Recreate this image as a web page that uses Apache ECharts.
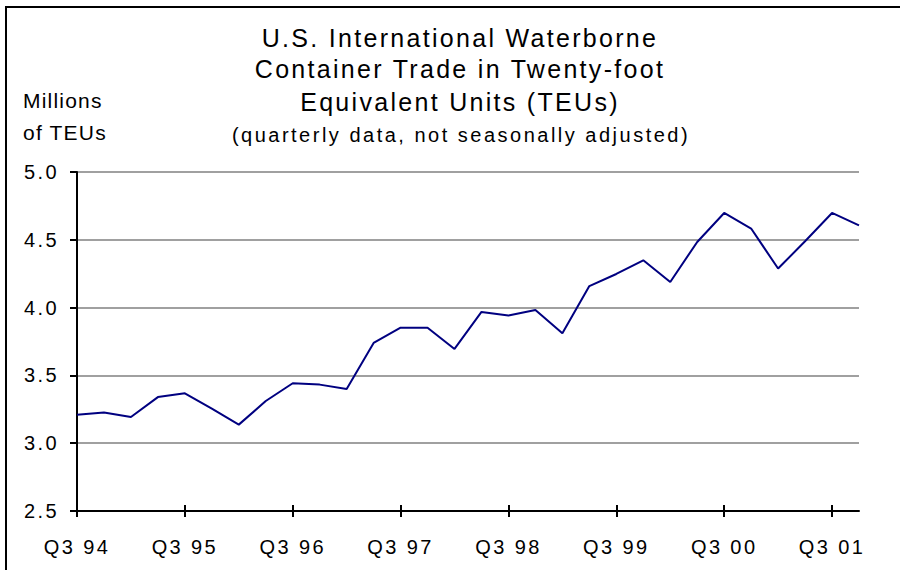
<!DOCTYPE html>
<html>
<head>
<meta charset="utf-8">
<script src="https://cdn.jsdelivr.net/npm/echarts@6/dist/echarts.min.js"></script>
<style>
  html, body { margin: 0; padding: 0; background: #fff; }
  #chart { width: 900px; height: 570px; }
</style>
</head>
<body>
<div id="chart"></div>
<script>
// Quarterly periods, Q3 1994 through Q4 2001
const quarters = [
  'Q3 94', 'Q4 94', 'Q1 95', 'Q2 95',
  'Q3 95', 'Q4 95', 'Q1 96', 'Q2 96',
  'Q3 96', 'Q4 96', 'Q1 97', 'Q2 97',
  'Q3 97', 'Q4 97', 'Q1 98', 'Q2 98',
  'Q3 98', 'Q4 98', 'Q1 99', 'Q2 99',
  'Q3 99', 'Q4 99', 'Q1 00', 'Q2 00',
  'Q3 00', 'Q4 00', 'Q1 01', 'Q2 01',
  'Q3 01', 'Q4 01'
];

// Container trade, millions of TEUs
const teus = [
  3.21, 3.226, 3.193, 3.34,
  3.368, 3.255, 3.137, 3.311,
  3.442, 3.432, 3.40, 3.739,
  3.852, 3.852, 3.695, 3.968,
  3.941, 3.982, 3.81, 4.159,
  4.248, 4.349, 4.189, 4.484,
  4.698, 4.583, 4.288, 4.489,
  4.698, 4.607
];

const yTicks = { min: 2.5, max: 5.0, step: 0.5 };

const titleLines = [
  'U.S. International Waterborne',
  'Container Trade in Twenty-foot',
  'Equivalent Units (TEUs)'
];
const subtitle = '(quarterly data, not seasonally adjusted)';
const unitLines = ['Millions', 'of TEUs'];

const FONT = '"Liberation Sans", Arial, sans-serif';

const chart = echarts.init(document.getElementById('chart'), null, { renderer: 'svg' });

const textEl = (text, x, y, size, align) => ({
  type: 'text',
  x: x, y: y,
  style: {
    text: text,
    fill: '#000',
    font: size + 'px ' + FONT,
    textAlign: align,
    textVerticalAlign: 'middle'
  }
});

chart.setOption({
  animation: false,
  backgroundColor: '#fff',
  grid: { left: 77, right: 41, top: 172, bottom: 59, containLabel: false },
  xAxis: [
    {
      type: 'category',
      data: quarters,
      boundaryGap: false,
      axisLine: { lineStyle: { color: '#000', width: 2 } },
      axisTick: { interval: 3, length: 6, lineStyle: { color: '#000', width: 2 } },
      axisLabel: { interval: 3, margin: 26, color: '#000', fontSize: 20, fontFamily: FONT },
      splitLine: { show: false }
    },
    {
      // upper half of the crossing tick marks, raised into the plot
      type: 'category',
      data: quarters,
      boundaryGap: false,
      position: 'bottom',
      offset: -6,
      axisLine: { show: true, lineStyle: { color: 'rgba(0,0,0,0)', width: 0 } },
      axisTick: { show: true, interval: 3, length: 6, lineStyle: { color: '#000', width: 2 } },
      axisLabel: { show: false },
      splitLine: { show: false },
      z: 10
    }
  ],
  yAxis: {
    type: 'value',
    min: yTicks.min,
    max: yTicks.max,
    interval: yTicks.step,
    axisLine: { show: true, lineStyle: { color: '#000', width: 2 } },
    axisTick: { show: true, length: 7, lineStyle: { color: '#000', width: 2 } },
    axisLabel: {
      margin: 18, color: '#000', fontSize: 20, fontFamily: FONT,
      formatter: v => v.toFixed(1)
    },
    splitLine: { lineStyle: { color: '#a0a0a0', width: 2 } }
  },
  series: [{
    type: 'line',
    data: teus,
    xAxisIndex: 0,
    symbol: 'none',
    lineStyle: { color: '#000080', width: 2 },
    z: 5
  }],
  graphic: [
    { type: 'line', shape: { x1: 6, y1: 7, x2: 900, y2: 7 }, style: { stroke: '#000', lineWidth: 2 } },
    { type: 'line', shape: { x1: 6, y1: 6, x2: 6, y2: 570 }, style: { stroke: '#000', lineWidth: 2 } },
    textEl(titleLines[0], 460, 38, 25, 'center'),
    textEl(titleLines[1], 460, 69, 25, 'center'),
    textEl(titleLines[2], 460, 102, 25, 'center'),
    textEl(subtitle, 461, 135, 20, 'center'),
    textEl(unitLines[0], 23, 100, 21, 'left'),
    textEl(unitLines[1], 23, 132, 21, 'left')
  ]
});

// Widen the character spacing of the drawn text
function spaceText() {
  const spacingFor = t => {
    const s = t.textContent;
    if (titleLines.indexOf(s) >= 0) return 2.3;
    if (s === subtitle) return 2.5;
    if (unitLines.indexOf(s) >= 0) return 1.2;
    return 2.4;
  };
  document.querySelectorAll('#chart svg text').forEach(t => {
    t.setAttribute('letter-spacing', spacingFor(t) + 'px');
  });
}
spaceText();
chart.on('finished', spaceText);
</script>
</body>
</html>
